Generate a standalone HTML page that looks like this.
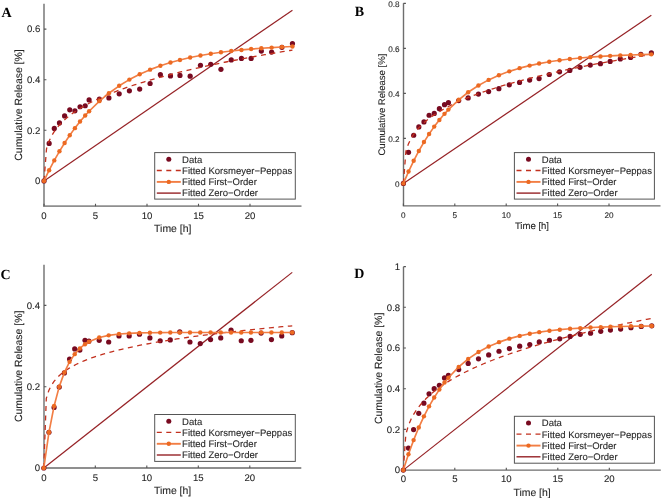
<!DOCTYPE html>
<html><head><meta charset="utf-8"><style>
html,body{margin:0;padding:0;background:#fff;width:662px;height:498px;overflow:hidden}
svg{display:block}
text{text-rendering:geometricPrecision;font-family:"Liberation Sans",sans-serif;fill:#262626;stroke:#262626;stroke-width:0.1px}
.lt{text-rendering:geometricPrecision;font-family:"Liberation Serif",serif;font-weight:bold;font-size:14px;fill:#000;stroke:none}
</style></head><body>
<svg style="filter:blur(0.3px)" width="662" height="498" viewBox="0 0 662 498">
<rect width="662" height="498" fill="#fff"/>
<g id="pA"><path d="M44 3.8V206.2H301.5" fill="none" stroke="#8f8f8f" stroke-width="1.8"/>
<path d="M44 180.9h2.4M44 130.3h2.4M44 79.7h2.4M44 29.1h2.4M44 206.2v-2.4M95.5 206.2v-2.4M147 206.2v-2.4M198.5 206.2v-2.4M250 206.2v-2.4" stroke="#555" stroke-width="1.1"/>
<text x="40.3" y="184.26" font-size="9.6" text-anchor="end">0</text>
<text x="40.3" y="133.66" font-size="9.6" text-anchor="end">0.2</text>
<text x="40.3" y="83.06" font-size="9.6" text-anchor="end">0.4</text>
<text x="40.3" y="32.46" font-size="9.6" text-anchor="end">0.6</text>
<text x="44" y="219.2" font-size="9.6" text-anchor="middle">0</text>
<text x="95.5" y="219.2" font-size="9.6" text-anchor="middle">5</text>
<text x="147" y="219.2" font-size="9.6" text-anchor="middle">10</text>
<text x="198.5" y="219.2" font-size="9.6" text-anchor="middle">15</text>
<text x="250" y="219.2" font-size="9.6" text-anchor="middle">20</text>
<text x="172.75" y="231.9" font-size="10.45" text-anchor="middle">Time [h]</text>
<text transform="translate(21.6 105) rotate(-90)" font-size="10.45" text-anchor="middle">Cumulative Release [%]</text>
<text x="1.5" y="17.2" class="lt">A</text>
<path d="M44 180.9L292.44 10.22" stroke="#962226" stroke-width="1.2" fill="none"/>
<circle cx="44" cy="180.9" r="2.6" fill="#780a20"/>
<circle cx="49.15" cy="143.46" r="2.6" fill="#780a20"/>
<circle cx="54.3" cy="128.4" r="2.6" fill="#780a20"/>
<circle cx="59.45" cy="122.96" r="2.6" fill="#780a20"/>
<circle cx="64.6" cy="115.88" r="2.6" fill="#780a20"/>
<circle cx="69.75" cy="109.81" r="2.6" fill="#780a20"/>
<circle cx="74.9" cy="110.82" r="2.6" fill="#780a20"/>
<circle cx="80.05" cy="106.77" r="2.6" fill="#780a20"/>
<circle cx="85.2" cy="105.76" r="2.6" fill="#780a20"/>
<circle cx="89.11" cy="99.94" r="2.6" fill="#780a20"/>
<circle cx="99.41" cy="99.18" r="2.6" fill="#780a20"/>
<circle cx="108.89" cy="97.92" r="2.6" fill="#780a20"/>
<circle cx="119.19" cy="93.87" r="2.6" fill="#780a20"/>
<circle cx="129.39" cy="90.83" r="2.6" fill="#780a20"/>
<circle cx="139.69" cy="89.06" r="2.6" fill="#780a20"/>
<circle cx="150.09" cy="83.5" r="2.6" fill="#780a20"/>
<circle cx="160.39" cy="74.64" r="2.6" fill="#780a20"/>
<circle cx="170.48" cy="75.91" r="2.6" fill="#780a20"/>
<circle cx="179.96" cy="75.4" r="2.6" fill="#780a20"/>
<circle cx="190.16" cy="76.16" r="2.6" fill="#780a20"/>
<circle cx="200.46" cy="65.28" r="2.6" fill="#780a20"/>
<circle cx="210.76" cy="64.27" r="2.6" fill="#780a20"/>
<circle cx="220.95" cy="69.33" r="2.6" fill="#780a20"/>
<circle cx="231.25" cy="59.97" r="2.6" fill="#780a20"/>
<circle cx="241.45" cy="58.45" r="2.6" fill="#780a20"/>
<circle cx="251.13" cy="58.45" r="2.6" fill="#780a20"/>
<circle cx="261.33" cy="51.11" r="2.6" fill="#780a20"/>
<circle cx="271.63" cy="52.12" r="2.6" fill="#780a20"/>
<circle cx="281.93" cy="47.32" r="2.6" fill="#780a20"/>
<circle cx="292.44" cy="43.52" r="2.6" fill="#780a20"/>
<polyline points="44,180.9 46.51,148.87 49.02,141.29 51.53,136.06 54.04,131.93 56.55,128.46 59.06,125.45 61.57,122.77 64.08,120.35 66.59,118.12 69.09,116.07 71.6,114.15 74.11,112.34 76.62,110.64 79.13,109.03 81.64,107.5 84.15,106.03 86.66,104.63 89.17,103.28 91.68,101.99 94.19,100.74 96.7,99.53 99.21,98.36 101.72,97.23 104.23,96.13 106.74,95.07 109.25,94.03 111.76,93.02 114.26,92.04 116.77,91.08 119.28,90.14 121.79,89.22 124.3,88.33 126.81,87.45 129.32,86.59 131.83,85.75 134.34,84.93 136.85,84.12 139.36,83.33 141.87,82.55 144.38,81.78 146.89,81.03 149.4,80.29 151.91,79.56 154.42,78.85 156.93,78.14 159.43,77.45 161.94,76.77 164.45,76.09 166.96,75.43 169.47,74.77 171.98,74.13 174.49,73.49 177,72.86 179.51,72.24 182.02,71.63 184.53,71.03 187.04,70.43 189.55,69.84 192.06,69.26 194.57,68.68 197.08,68.11 199.59,67.55 202.1,66.99 204.61,66.44 207.11,65.9 209.62,65.36 212.13,64.82 214.64,64.3 217.15,63.77 219.66,63.26 222.17,62.74 224.68,62.24 227.19,61.74 229.7,61.24 232.21,60.74 234.72,60.26 237.23,59.77 239.74,59.29 242.25,58.82 244.76,58.35 247.27,57.88 249.78,57.42 252.28,56.96 254.79,56.5 257.3,56.05 259.81,55.6 262.32,55.16 264.83,54.72 267.34,54.28 269.85,53.85 272.36,53.42 274.87,52.99 277.38,52.56 279.89,52.14 282.4,51.73 284.91,51.31 287.42,50.9 289.93,50.49 292.44,50.08" stroke="#c2301e" stroke-width="1.3" fill="none" stroke-dasharray="5 4.5"/>
<polyline points="44,180.9 49.15,170.23 54.3,160.4 59.45,151.32 64.6,142.96 69.75,135.24 74.9,128.13 80.05,121.57 85.2,115.52 89.11,111.23 99.41,101.15 108.89,93.21 119.19,85.82 129.39,79.59 139.69,74.24 150.09,69.64 160.39,65.78 170.48,62.55 179.96,59.96 190.16,57.56 200.46,55.5 210.76,53.75 220.95,52.28 231.25,51.01 241.45,49.94 251.13,49.07 261.33,48.29 271.63,47.62 281.93,47.05 292.44,46.55" stroke="#f27e44" stroke-width="1.65" fill="none" stroke-linejoin="round"/>
<circle cx="44" cy="180.9" r="2.2" fill="#ec6a22"/>
<circle cx="49.15" cy="170.23" r="2.2" fill="#ec6a22"/>
<circle cx="54.3" cy="160.4" r="2.2" fill="#ec6a22"/>
<circle cx="59.45" cy="151.32" r="2.2" fill="#ec6a22"/>
<circle cx="64.6" cy="142.96" r="2.2" fill="#ec6a22"/>
<circle cx="69.75" cy="135.24" r="2.2" fill="#ec6a22"/>
<circle cx="74.9" cy="128.13" r="2.2" fill="#ec6a22"/>
<circle cx="80.05" cy="121.57" r="2.2" fill="#ec6a22"/>
<circle cx="85.2" cy="115.52" r="2.2" fill="#ec6a22"/>
<circle cx="89.11" cy="111.23" r="2.2" fill="#ec6a22"/>
<circle cx="99.41" cy="101.15" r="2.2" fill="#ec6a22"/>
<circle cx="108.89" cy="93.21" r="2.2" fill="#ec6a22"/>
<circle cx="119.19" cy="85.82" r="2.2" fill="#ec6a22"/>
<circle cx="129.39" cy="79.59" r="2.2" fill="#ec6a22"/>
<circle cx="139.69" cy="74.24" r="2.2" fill="#ec6a22"/>
<circle cx="150.09" cy="69.64" r="2.2" fill="#ec6a22"/>
<circle cx="160.39" cy="65.78" r="2.2" fill="#ec6a22"/>
<circle cx="170.48" cy="62.55" r="2.2" fill="#ec6a22"/>
<circle cx="179.96" cy="59.96" r="2.2" fill="#ec6a22"/>
<circle cx="190.16" cy="57.56" r="2.2" fill="#ec6a22"/>
<circle cx="200.46" cy="55.5" r="2.2" fill="#ec6a22"/>
<circle cx="210.76" cy="53.75" r="2.2" fill="#ec6a22"/>
<circle cx="220.95" cy="52.28" r="2.2" fill="#ec6a22"/>
<circle cx="231.25" cy="51.01" r="2.2" fill="#ec6a22"/>
<circle cx="241.45" cy="49.94" r="2.2" fill="#ec6a22"/>
<circle cx="251.13" cy="49.07" r="2.2" fill="#ec6a22"/>
<circle cx="261.33" cy="48.29" r="2.2" fill="#ec6a22"/>
<circle cx="271.63" cy="47.62" r="2.2" fill="#ec6a22"/>
<circle cx="281.93" cy="47.05" r="2.2" fill="#ec6a22"/>
<circle cx="292.44" cy="46.55" r="2.2" fill="#ec6a22"/>
<rect x="154.7" y="152.6" width="140.6" height="46.5" fill="#fff" stroke="#555" stroke-width="1"/>
<circle cx="168.8" cy="159.3" r="2.5" fill="#780a20"/>
<path d="M156.8 170.5H180.8" stroke="#c2301e" stroke-width="1.3" stroke-dasharray="5 4.5"/>
<path d="M156.8 181.9H180.8" stroke="#f27e44" stroke-width="1.9"/>
<circle cx="168.8" cy="181.9" r="2.2" fill="#ec6a22"/>
<path d="M156.8 193.1H180.8" stroke="#962226" stroke-width="1.4"/>
<text x="182.1" y="162.6" font-size="9.5">Data</text>
<text x="182.1" y="173.8" font-size="9.5">Fitted Korsmeyer−Peppas</text>
<text x="182.1" y="185.2" font-size="9.5">Fitted First−Order</text>
<text x="182.1" y="196.4" font-size="9.5">Fitted Zero−Order</text></g>
<g id="pB"><path d="M403.5 3.3V205.9H660.5" fill="none" stroke="#6e6e6e" stroke-width="1.4"/>
<path d="M403.5 183.4h2.4M403.5 138.4h2.4M403.5 93.4h2.4M403.5 48.4h2.4M403.5 3.4h2.4M403.4 205.9v-2.4M454.8 205.9v-2.4M506.2 205.9v-2.4M557.6 205.9v-2.4M609 205.9v-2.4" stroke="#555" stroke-width="1.1"/>
<text x="399.6" y="186.87" font-size="8.2" text-anchor="end">0</text>
<text x="399.6" y="141.87" font-size="8.2" text-anchor="end">0.2</text>
<text x="399.6" y="96.87" font-size="8.2" text-anchor="end">0.4</text>
<text x="399.6" y="51.87" font-size="8.2" text-anchor="end">0.6</text>
<text x="399.6" y="6.87" font-size="8.2" text-anchor="end">0.8</text>
<text x="403.4" y="217.6" font-size="8.2" text-anchor="middle">0</text>
<text x="454.8" y="217.6" font-size="8.2" text-anchor="middle">5</text>
<text x="506.2" y="217.6" font-size="8.2" text-anchor="middle">10</text>
<text x="557.6" y="217.6" font-size="8.2" text-anchor="middle">15</text>
<text x="609" y="217.6" font-size="8.2" text-anchor="middle">20</text>
<text x="531.95" y="228.7" font-size="9.55" text-anchor="middle">Time [h]</text>
<text transform="translate(385 104.6) rotate(-90)" font-size="9.55" text-anchor="middle">Cumulative Release [%]</text>
<text x="354.8" y="15.9" class="lt">B</text>
<path d="M403.4 183.4L651.35 15.33" stroke="#962226" stroke-width="1.2" fill="none"/>
<circle cx="403.4" cy="183.4" r="2.6" fill="#780a20"/>
<circle cx="408.54" cy="152.35" r="2.6" fill="#780a20"/>
<circle cx="413.68" cy="135.25" r="2.6" fill="#780a20"/>
<circle cx="418.82" cy="126.93" r="2.6" fill="#780a20"/>
<circle cx="423.96" cy="121.97" r="2.6" fill="#780a20"/>
<circle cx="429.1" cy="115.23" r="2.6" fill="#780a20"/>
<circle cx="434.24" cy="113.43" r="2.6" fill="#780a20"/>
<circle cx="439.38" cy="108.7" r="2.6" fill="#780a20"/>
<circle cx="444.52" cy="104.65" r="2.6" fill="#780a20"/>
<circle cx="448.43" cy="102.63" r="2.6" fill="#780a20"/>
<circle cx="458.71" cy="100.6" r="2.6" fill="#780a20"/>
<circle cx="468.16" cy="97.9" r="2.6" fill="#780a20"/>
<circle cx="478.44" cy="94.08" r="2.6" fill="#780a20"/>
<circle cx="488.62" cy="91.6" r="2.6" fill="#780a20"/>
<circle cx="498.9" cy="88.68" r="2.6" fill="#780a20"/>
<circle cx="509.28" cy="84.85" r="2.6" fill="#780a20"/>
<circle cx="519.56" cy="82.38" r="2.6" fill="#780a20"/>
<circle cx="529.64" cy="80.12" r="2.6" fill="#780a20"/>
<circle cx="539.1" cy="78.55" r="2.6" fill="#780a20"/>
<circle cx="549.27" cy="74.5" r="2.6" fill="#780a20"/>
<circle cx="559.55" cy="71.8" r="2.6" fill="#780a20"/>
<circle cx="569.83" cy="70.45" r="2.6" fill="#780a20"/>
<circle cx="580.01" cy="67.3" r="2.6" fill="#780a20"/>
<circle cx="590.29" cy="65.05" r="2.6" fill="#780a20"/>
<circle cx="600.47" cy="63.7" r="2.6" fill="#780a20"/>
<circle cx="610.13" cy="61.45" r="2.6" fill="#780a20"/>
<circle cx="620.31" cy="58.97" r="2.6" fill="#780a20"/>
<circle cx="630.59" cy="57.4" r="2.6" fill="#780a20"/>
<circle cx="640.87" cy="54.25" r="2.6" fill="#780a20"/>
<circle cx="651.35" cy="52.9" r="2.6" fill="#780a20"/>
<polyline points="403.4,183.4 405.9,151.38 408.41,143.9 410.91,138.73 413.42,134.66 415.92,131.25 418.43,128.29 420.93,125.66 423.44,123.27 425.94,121.09 428.45,119.06 430.95,117.18 433.45,115.41 435.96,113.74 438.46,112.16 440.97,110.65 443.47,109.21 445.98,107.84 448.48,106.52 450.99,105.25 453.49,104.02 456,102.84 458.5,101.7 461.01,100.59 463.51,99.51 466.01,98.47 468.52,97.45 471.02,96.46 473.53,95.5 476.03,94.56 478.54,93.64 481.04,92.75 483.55,91.87 486.05,91.01 488.56,90.17 491.06,89.35 493.56,88.54 496.07,87.75 498.57,86.97 501.08,86.21 503.58,85.46 506.09,84.73 508.59,84 511.1,83.29 513.6,82.59 516.11,81.9 518.61,81.23 521.12,80.56 523.62,79.9 526.12,79.25 528.63,78.61 531.13,77.98 533.64,77.36 536.14,76.74 538.65,76.14 541.15,75.54 543.66,74.95 546.16,74.37 548.67,73.79 551.17,73.22 553.67,72.66 556.18,72.1 558.68,71.55 561.19,71.01 563.69,70.47 566.2,69.94 568.7,69.41 571.21,68.89 573.71,68.38 576.22,67.87 578.72,67.36 581.23,66.86 583.73,66.37 586.23,65.87 588.74,65.39 591.24,64.91 593.75,64.43 596.25,63.96 598.76,63.49 601.26,63.03 603.77,62.57 606.27,62.11 608.78,61.66 611.28,61.21 613.78,60.77 616.29,60.33 618.79,59.89 621.3,59.46 623.8,59.03 626.31,58.6 628.81,58.18 631.32,57.76 633.82,57.34 636.33,56.92 638.83,56.51 641.34,56.11 643.84,55.7 646.34,55.3 648.85,54.9 651.35,54.51" stroke="#c2301e" stroke-width="1.3" fill="none" stroke-dasharray="5 4.5"/>
<polyline points="403.4,183.4 408.54,171.55 413.68,160.77 418.82,150.97 423.96,142.07 429.1,133.97 434.24,126.61 439.38,119.93 444.52,113.84 448.43,109.59 458.71,99.78 468.16,92.26 478.44,85.45 488.62,79.88 498.9,75.22 509.28,71.34 519.56,68.17 529.64,65.59 539.1,63.57 549.27,61.76 559.55,60.25 569.83,59 580.01,57.98 590.29,57.13 600.47,56.43 610.13,55.87 620.31,55.39 630.59,54.98 640.87,54.65 651.35,54.37" stroke="#f27e44" stroke-width="1.65" fill="none" stroke-linejoin="round"/>
<circle cx="403.4" cy="183.4" r="2.2" fill="#ec6a22"/>
<circle cx="408.54" cy="171.55" r="2.2" fill="#ec6a22"/>
<circle cx="413.68" cy="160.77" r="2.2" fill="#ec6a22"/>
<circle cx="418.82" cy="150.97" r="2.2" fill="#ec6a22"/>
<circle cx="423.96" cy="142.07" r="2.2" fill="#ec6a22"/>
<circle cx="429.1" cy="133.97" r="2.2" fill="#ec6a22"/>
<circle cx="434.24" cy="126.61" r="2.2" fill="#ec6a22"/>
<circle cx="439.38" cy="119.93" r="2.2" fill="#ec6a22"/>
<circle cx="444.52" cy="113.84" r="2.2" fill="#ec6a22"/>
<circle cx="448.43" cy="109.59" r="2.2" fill="#ec6a22"/>
<circle cx="458.71" cy="99.78" r="2.2" fill="#ec6a22"/>
<circle cx="468.16" cy="92.26" r="2.2" fill="#ec6a22"/>
<circle cx="478.44" cy="85.45" r="2.2" fill="#ec6a22"/>
<circle cx="488.62" cy="79.88" r="2.2" fill="#ec6a22"/>
<circle cx="498.9" cy="75.22" r="2.2" fill="#ec6a22"/>
<circle cx="509.28" cy="71.34" r="2.2" fill="#ec6a22"/>
<circle cx="519.56" cy="68.17" r="2.2" fill="#ec6a22"/>
<circle cx="529.64" cy="65.59" r="2.2" fill="#ec6a22"/>
<circle cx="539.1" cy="63.57" r="2.2" fill="#ec6a22"/>
<circle cx="549.27" cy="61.76" r="2.2" fill="#ec6a22"/>
<circle cx="559.55" cy="60.25" r="2.2" fill="#ec6a22"/>
<circle cx="569.83" cy="59" r="2.2" fill="#ec6a22"/>
<circle cx="580.01" cy="57.98" r="2.2" fill="#ec6a22"/>
<circle cx="590.29" cy="57.13" r="2.2" fill="#ec6a22"/>
<circle cx="600.47" cy="56.43" r="2.2" fill="#ec6a22"/>
<circle cx="610.13" cy="55.87" r="2.2" fill="#ec6a22"/>
<circle cx="620.31" cy="55.39" r="2.2" fill="#ec6a22"/>
<circle cx="630.59" cy="54.98" r="2.2" fill="#ec6a22"/>
<circle cx="640.87" cy="54.65" r="2.2" fill="#ec6a22"/>
<circle cx="651.35" cy="54.37" r="2.2" fill="#ec6a22"/>
<rect x="514.4" y="152.6" width="140" height="46.5" fill="#fff" stroke="#555" stroke-width="1"/>
<circle cx="528.5" cy="159.3" r="2.5" fill="#780a20"/>
<path d="M516.5 170.5H540.5" stroke="#c2301e" stroke-width="1.3" stroke-dasharray="5 4.5"/>
<path d="M516.5 181.9H540.5" stroke="#f27e44" stroke-width="1.9"/>
<circle cx="528.5" cy="181.9" r="2.2" fill="#ec6a22"/>
<path d="M516.5 193.1H540.5" stroke="#962226" stroke-width="1.4"/>
<text x="541.8" y="162.6" font-size="9.5">Data</text>
<text x="541.8" y="173.8" font-size="9.5">Fitted Korsmeyer−Peppas</text>
<text x="541.8" y="185.2" font-size="9.5">Fitted First−Order</text>
<text x="541.8" y="196.4" font-size="9.5">Fitted Zero−Order</text></g>
<g id="pC"><path d="M44 264.7V468H301.3" fill="none" stroke="#8f8f8f" stroke-width="1.8"/>
<path d="M44 468h2.4M44 386.7h2.4M44 305.4h2.4M43.8 468v-2.4M95.3 468v-2.4M146.8 468v-2.4M198.3 468v-2.4M249.8 468v-2.4" stroke="#555" stroke-width="1.1"/>
<text x="40.1" y="471.36" font-size="9.6" text-anchor="end">0</text>
<text x="40.1" y="390.06" font-size="9.6" text-anchor="end">0.2</text>
<text x="40.1" y="308.76" font-size="9.6" text-anchor="end">0.4</text>
<text x="43.8" y="480.6" font-size="9.6" text-anchor="middle">0</text>
<text x="95.3" y="480.6" font-size="9.6" text-anchor="middle">5</text>
<text x="146.8" y="480.6" font-size="9.6" text-anchor="middle">10</text>
<text x="198.3" y="480.6" font-size="9.6" text-anchor="middle">15</text>
<text x="249.8" y="480.6" font-size="9.6" text-anchor="middle">20</text>
<text x="172.55" y="493.8" font-size="10.45" text-anchor="middle">Time [h]</text>
<text transform="translate(22.2 366.35) rotate(-90)" font-size="10.45" text-anchor="middle">Cumulative Release [%]</text>
<text x="0.6" y="278.7" class="lt">C</text>
<path d="M43.8 468L292.24 272.39" stroke="#962226" stroke-width="1.2" fill="none"/>
<circle cx="43.8" cy="468" r="2.6" fill="#780a20"/>
<circle cx="48.95" cy="432.23" r="2.6" fill="#780a20"/>
<circle cx="54.1" cy="407.43" r="2.6" fill="#780a20"/>
<circle cx="59.25" cy="387.11" r="2.6" fill="#780a20"/>
<circle cx="64.4" cy="372.88" r="2.6" fill="#780a20"/>
<circle cx="69.55" cy="359.06" r="2.6" fill="#780a20"/>
<circle cx="74.7" cy="348.9" r="2.6" fill="#780a20"/>
<circle cx="79.85" cy="350.12" r="2.6" fill="#780a20"/>
<circle cx="85" cy="340.36" r="2.6" fill="#780a20"/>
<circle cx="88.91" cy="341.17" r="2.6" fill="#780a20"/>
<circle cx="99.21" cy="340.36" r="2.6" fill="#780a20"/>
<circle cx="108.69" cy="341.99" r="2.6" fill="#780a20"/>
<circle cx="118.99" cy="335.89" r="2.6" fill="#780a20"/>
<circle cx="129.19" cy="335.89" r="2.6" fill="#780a20"/>
<circle cx="139.49" cy="334.26" r="2.6" fill="#780a20"/>
<circle cx="149.89" cy="337.92" r="2.6" fill="#780a20"/>
<circle cx="160.19" cy="340.77" r="2.6" fill="#780a20"/>
<circle cx="170.28" cy="339.95" r="2.6" fill="#780a20"/>
<circle cx="179.76" cy="331.82" r="2.6" fill="#780a20"/>
<circle cx="189.96" cy="341.99" r="2.6" fill="#780a20"/>
<circle cx="200.26" cy="343.61" r="2.6" fill="#780a20"/>
<circle cx="210.56" cy="339.55" r="2.6" fill="#780a20"/>
<circle cx="220.75" cy="337.92" r="2.6" fill="#780a20"/>
<circle cx="231.05" cy="330.2" r="2.6" fill="#780a20"/>
<circle cx="241.25" cy="340.77" r="2.6" fill="#780a20"/>
<circle cx="250.93" cy="340.36" r="2.6" fill="#780a20"/>
<circle cx="261.13" cy="333.04" r="2.6" fill="#780a20"/>
<circle cx="271.43" cy="339.55" r="2.6" fill="#780a20"/>
<circle cx="281.73" cy="335.89" r="2.6" fill="#780a20"/>
<circle cx="292.24" cy="332.64" r="2.6" fill="#780a20"/>
<polyline points="43.8,468 46.31,398.38 48.82,390.46 51.33,385.42 53.84,381.64 56.35,378.59 58.86,376.02 61.37,373.79 63.88,371.82 66.39,370.04 68.89,368.42 71.4,366.94 73.91,365.56 76.42,364.28 78.93,363.08 81.44,361.95 83.95,360.88 86.46,359.87 88.97,358.9 91.48,357.98 93.99,357.1 96.5,356.26 99.01,355.45 101.52,354.67 104.03,353.91 106.54,353.19 109.05,352.49 111.56,351.81 114.06,351.15 116.57,350.51 119.08,349.89 121.59,349.28 124.1,348.7 126.61,348.13 129.12,347.57 131.63,347.02 134.14,346.49 136.65,345.97 139.16,345.47 141.67,344.97 144.18,344.49 146.69,344.01 149.2,343.55 151.71,343.09 154.22,342.64 156.73,342.21 159.23,341.78 161.74,341.35 164.25,340.94 166.76,340.53 169.27,340.13 171.78,339.74 174.29,339.35 176.8,338.97 179.31,338.59 181.82,338.22 184.33,337.86 186.84,337.5 189.35,337.15 191.86,336.8 194.37,336.45 196.88,336.12 199.39,335.78 201.9,335.45 204.41,335.13 206.91,334.81 209.42,334.49 211.93,334.18 214.44,333.87 216.95,333.57 219.46,333.27 221.97,332.97 224.48,332.67 226.99,332.38 229.5,332.1 232.01,331.81 234.52,331.53 237.03,331.25 239.54,330.98 242.05,330.71 244.56,330.44 247.07,330.17 249.58,329.91 252.08,329.65 254.59,329.39 257.1,329.14 259.61,328.89 262.12,328.64 264.63,328.39 267.14,328.14 269.65,327.9 272.16,327.66 274.67,327.42 277.18,327.18 279.69,326.95 282.2,326.72 284.71,326.49 287.22,326.26 289.73,326.03 292.24,325.81" stroke="#c2301e" stroke-width="1.3" fill="none" stroke-dasharray="5 4.5"/>
<polyline points="43.8,468 48.95,432.31 54.1,406.02 59.25,386.65 64.4,372.38 69.55,361.87 74.7,354.13 79.85,348.43 85,344.22 88.91,341.79 99.21,337.53 108.69,335.35 118.99,334.04 129.19,333.33 139.49,332.94 149.89,332.72 160.19,332.61 170.28,332.55 179.76,332.52 189.96,332.5 200.26,332.49 210.56,332.48 220.75,332.48 231.05,332.47 241.25,332.47 250.93,332.47 261.13,332.47 271.43,332.47 281.73,332.47 292.24,332.47" stroke="#f27e44" stroke-width="1.65" fill="none" stroke-linejoin="round"/>
<circle cx="43.8" cy="468" r="2.2" fill="#ec6a22"/>
<circle cx="48.95" cy="432.31" r="2.2" fill="#ec6a22"/>
<circle cx="54.1" cy="406.02" r="2.2" fill="#ec6a22"/>
<circle cx="59.25" cy="386.65" r="2.2" fill="#ec6a22"/>
<circle cx="64.4" cy="372.38" r="2.2" fill="#ec6a22"/>
<circle cx="69.55" cy="361.87" r="2.2" fill="#ec6a22"/>
<circle cx="74.7" cy="354.13" r="2.2" fill="#ec6a22"/>
<circle cx="79.85" cy="348.43" r="2.2" fill="#ec6a22"/>
<circle cx="85" cy="344.22" r="2.2" fill="#ec6a22"/>
<circle cx="88.91" cy="341.79" r="2.2" fill="#ec6a22"/>
<circle cx="99.21" cy="337.53" r="2.2" fill="#ec6a22"/>
<circle cx="108.69" cy="335.35" r="2.2" fill="#ec6a22"/>
<circle cx="118.99" cy="334.04" r="2.2" fill="#ec6a22"/>
<circle cx="129.19" cy="333.33" r="2.2" fill="#ec6a22"/>
<circle cx="139.49" cy="332.94" r="2.2" fill="#ec6a22"/>
<circle cx="149.89" cy="332.72" r="2.2" fill="#ec6a22"/>
<circle cx="160.19" cy="332.61" r="2.2" fill="#ec6a22"/>
<circle cx="170.28" cy="332.55" r="2.2" fill="#ec6a22"/>
<circle cx="179.76" cy="332.52" r="2.2" fill="#ec6a22"/>
<circle cx="189.96" cy="332.5" r="2.2" fill="#ec6a22"/>
<circle cx="200.26" cy="332.49" r="2.2" fill="#ec6a22"/>
<circle cx="210.56" cy="332.48" r="2.2" fill="#ec6a22"/>
<circle cx="220.75" cy="332.48" r="2.2" fill="#ec6a22"/>
<circle cx="231.05" cy="332.47" r="2.2" fill="#ec6a22"/>
<circle cx="241.25" cy="332.47" r="2.2" fill="#ec6a22"/>
<circle cx="250.93" cy="332.47" r="2.2" fill="#ec6a22"/>
<circle cx="261.13" cy="332.47" r="2.2" fill="#ec6a22"/>
<circle cx="271.43" cy="332.47" r="2.2" fill="#ec6a22"/>
<circle cx="281.73" cy="332.47" r="2.2" fill="#ec6a22"/>
<circle cx="292.24" cy="332.47" r="2.2" fill="#ec6a22"/>
<rect x="154.7" y="414.5" width="140.6" height="46.9" fill="#fff" stroke="#555" stroke-width="1"/>
<circle cx="168.8" cy="421.2" r="2.5" fill="#780a20"/>
<path d="M156.8 432.4H180.8" stroke="#c2301e" stroke-width="1.3" stroke-dasharray="5 4.5"/>
<path d="M156.8 443.8H180.8" stroke="#f27e44" stroke-width="1.9"/>
<circle cx="168.8" cy="443.8" r="2.2" fill="#ec6a22"/>
<path d="M156.8 455H180.8" stroke="#962226" stroke-width="1.4"/>
<text x="182.1" y="424.5" font-size="9.5">Data</text>
<text x="182.1" y="435.7" font-size="9.5">Fitted Korsmeyer−Peppas</text>
<text x="182.1" y="447.1" font-size="9.5">Fitted First−Order</text>
<text x="182.1" y="458.3" font-size="9.5">Fitted Zero−Order</text></g>
<g id="pD"><path d="M403.5 266.7V470.1H660.8" fill="none" stroke="#6e6e6e" stroke-width="1.4"/>
<path d="M403.5 470.1h2.4M403.5 429.4h2.4M403.5 388.7h2.4M403.5 348h2.4M403.5 307.3h2.4M403.5 266.6h2.4M403.3 470.1v-2.4M454.8 470.1v-2.4M506.3 470.1v-2.4M557.8 470.1v-2.4M609.3 470.1v-2.4" stroke="#555" stroke-width="1.1"/>
<text x="400.2" y="473.46" font-size="9.6" text-anchor="end">0</text>
<text x="400.2" y="432.76" font-size="9.6" text-anchor="end">0.2</text>
<text x="400.2" y="392.06" font-size="9.6" text-anchor="end">0.4</text>
<text x="400.2" y="351.36" font-size="9.6" text-anchor="end">0.6</text>
<text x="400.2" y="310.66" font-size="9.6" text-anchor="end">0.8</text>
<text x="400.2" y="269.96" font-size="9.6" text-anchor="end">1</text>
<text x="403.3" y="482.4" font-size="9.6" text-anchor="middle">0</text>
<text x="454.8" y="482.4" font-size="9.6" text-anchor="middle">5</text>
<text x="506.3" y="482.4" font-size="9.6" text-anchor="middle">10</text>
<text x="557.8" y="482.4" font-size="9.6" text-anchor="middle">15</text>
<text x="609.3" y="482.4" font-size="9.6" text-anchor="middle">20</text>
<text x="532.05" y="495.6" font-size="10.45" text-anchor="middle">Time [h]</text>
<text transform="translate(381.8 368.4) rotate(-90)" font-size="10.45" text-anchor="middle">Cumulative Release [%]</text>
<text x="354.3" y="277.8" class="lt">D</text>
<path d="M403.3 470.1L651.74 274.25" stroke="#962226" stroke-width="1.2" fill="none"/>
<circle cx="403.3" cy="470.1" r="2.6" fill="#780a20"/>
<circle cx="408.45" cy="448.12" r="2.6" fill="#780a20"/>
<circle cx="413.6" cy="429.6" r="2.6" fill="#780a20"/>
<circle cx="418.75" cy="413.32" r="2.6" fill="#780a20"/>
<circle cx="423.9" cy="403.15" r="2.6" fill="#780a20"/>
<circle cx="429.05" cy="393.79" r="2.6" fill="#780a20"/>
<circle cx="434.2" cy="388.7" r="2.6" fill="#780a20"/>
<circle cx="439.35" cy="385.24" r="2.6" fill="#780a20"/>
<circle cx="444.5" cy="377.91" r="2.6" fill="#780a20"/>
<circle cx="448.41" cy="375.27" r="2.6" fill="#780a20"/>
<circle cx="458.71" cy="369.57" r="2.6" fill="#780a20"/>
<circle cx="468.19" cy="363.47" r="2.6" fill="#780a20"/>
<circle cx="478.49" cy="358.79" r="2.6" fill="#780a20"/>
<circle cx="488.69" cy="354.92" r="2.6" fill="#780a20"/>
<circle cx="498.99" cy="351.26" r="2.6" fill="#780a20"/>
<circle cx="509.39" cy="348.61" r="2.6" fill="#780a20"/>
<circle cx="519.69" cy="346.17" r="2.6" fill="#780a20"/>
<circle cx="529.78" cy="344.54" r="2.6" fill="#780a20"/>
<circle cx="539.26" cy="341.89" r="2.6" fill="#780a20"/>
<circle cx="549.46" cy="340.27" r="2.6" fill="#780a20"/>
<circle cx="559.76" cy="338.84" r="2.6" fill="#780a20"/>
<circle cx="570.06" cy="336.4" r="2.6" fill="#780a20"/>
<circle cx="580.25" cy="334.37" r="2.6" fill="#780a20"/>
<circle cx="590.55" cy="333.14" r="2.6" fill="#780a20"/>
<circle cx="600.75" cy="331.31" r="2.6" fill="#780a20"/>
<circle cx="610.43" cy="330.09" r="2.6" fill="#780a20"/>
<circle cx="620.63" cy="329.07" r="2.6" fill="#780a20"/>
<circle cx="630.93" cy="327.65" r="2.6" fill="#780a20"/>
<circle cx="641.23" cy="326.43" r="2.6" fill="#780a20"/>
<circle cx="651.74" cy="325.82" r="2.6" fill="#780a20"/>
<polyline points="403.3,470.1 405.81,434.44 408.32,425.73 410.83,419.68 413.34,414.89 415.85,410.87 418.36,407.37 420.87,404.24 423.38,401.41 425.89,398.81 428.39,396.41 430.9,394.16 433.41,392.05 435.92,390.05 438.43,388.16 440.94,386.36 443.45,384.64 445.96,382.99 448.47,381.41 450.98,379.88 453.49,378.41 456,376.99 458.51,375.62 461.02,374.28 463.53,372.99 466.04,371.73 468.55,370.51 471.06,369.32 473.56,368.15 476.07,367.02 478.58,365.91 481.09,364.83 483.6,363.77 486.11,362.74 488.62,361.72 491.13,360.73 493.64,359.75 496.15,358.79 498.66,357.85 501.17,356.93 503.68,356.02 506.19,355.13 508.7,354.26 511.21,353.39 513.72,352.55 516.23,351.71 518.73,350.89 521.24,350.08 523.75,349.28 526.26,348.49 528.77,347.71 531.28,346.95 533.79,346.19 536.3,345.44 538.81,344.71 541.32,343.98 543.83,343.26 546.34,342.55 548.85,341.85 551.36,341.16 553.87,340.47 556.38,339.8 558.89,339.13 561.4,338.46 563.91,337.81 566.41,337.16 568.92,336.52 571.43,335.88 573.94,335.26 576.45,334.63 578.96,334.02 581.47,333.41 583.98,332.81 586.49,332.21 589,331.61 591.51,331.03 594.02,330.45 596.53,329.87 599.04,329.3 601.55,328.73 604.06,328.17 606.57,327.61 609.08,327.06 611.58,326.51 614.09,325.97 616.6,325.43 619.11,324.9 621.62,324.37 624.13,323.84 626.64,323.32 629.15,322.8 631.66,322.29 634.17,321.78 636.68,321.27 639.19,320.77 641.7,320.27 644.21,319.77 646.72,319.28 649.23,318.79 651.74,318.31" stroke="#c2301e" stroke-width="1.3" fill="none" stroke-dasharray="5 4.5"/>
<polyline points="403.3,470.1 408.45,454.24 413.6,440.11 418.75,427.54 423.9,416.34 429.05,406.37 434.2,397.49 439.35,389.59 444.5,382.56 448.41,377.73 458.71,366.89 468.19,358.91 478.49,351.97 488.69,346.52 498.99,342.15 509.39,338.65 519.69,335.91 529.78,333.78 539.26,332.17 549.46,330.79 559.76,329.68 570.06,328.8 580.25,328.11 590.55,327.55 600.75,327.12 610.43,326.79 620.63,326.51 630.93,326.28 641.23,326.11 651.74,325.97" stroke="#f27e44" stroke-width="1.65" fill="none" stroke-linejoin="round"/>
<circle cx="403.3" cy="470.1" r="2.2" fill="#ec6a22"/>
<circle cx="408.45" cy="454.24" r="2.2" fill="#ec6a22"/>
<circle cx="413.6" cy="440.11" r="2.2" fill="#ec6a22"/>
<circle cx="418.75" cy="427.54" r="2.2" fill="#ec6a22"/>
<circle cx="423.9" cy="416.34" r="2.2" fill="#ec6a22"/>
<circle cx="429.05" cy="406.37" r="2.2" fill="#ec6a22"/>
<circle cx="434.2" cy="397.49" r="2.2" fill="#ec6a22"/>
<circle cx="439.35" cy="389.59" r="2.2" fill="#ec6a22"/>
<circle cx="444.5" cy="382.56" r="2.2" fill="#ec6a22"/>
<circle cx="448.41" cy="377.73" r="2.2" fill="#ec6a22"/>
<circle cx="458.71" cy="366.89" r="2.2" fill="#ec6a22"/>
<circle cx="468.19" cy="358.91" r="2.2" fill="#ec6a22"/>
<circle cx="478.49" cy="351.97" r="2.2" fill="#ec6a22"/>
<circle cx="488.69" cy="346.52" r="2.2" fill="#ec6a22"/>
<circle cx="498.99" cy="342.15" r="2.2" fill="#ec6a22"/>
<circle cx="509.39" cy="338.65" r="2.2" fill="#ec6a22"/>
<circle cx="519.69" cy="335.91" r="2.2" fill="#ec6a22"/>
<circle cx="529.78" cy="333.78" r="2.2" fill="#ec6a22"/>
<circle cx="539.26" cy="332.17" r="2.2" fill="#ec6a22"/>
<circle cx="549.46" cy="330.79" r="2.2" fill="#ec6a22"/>
<circle cx="559.76" cy="329.68" r="2.2" fill="#ec6a22"/>
<circle cx="570.06" cy="328.8" r="2.2" fill="#ec6a22"/>
<circle cx="580.25" cy="328.11" r="2.2" fill="#ec6a22"/>
<circle cx="590.55" cy="327.55" r="2.2" fill="#ec6a22"/>
<circle cx="600.75" cy="327.12" r="2.2" fill="#ec6a22"/>
<circle cx="610.43" cy="326.79" r="2.2" fill="#ec6a22"/>
<circle cx="620.63" cy="326.51" r="2.2" fill="#ec6a22"/>
<circle cx="630.93" cy="326.28" r="2.2" fill="#ec6a22"/>
<circle cx="641.23" cy="326.11" r="2.2" fill="#ec6a22"/>
<circle cx="651.74" cy="325.97" r="2.2" fill="#ec6a22"/>
<rect x="514.4" y="416.3" width="140" height="46.9" fill="#fff" stroke="#555" stroke-width="1"/>
<circle cx="528.5" cy="423" r="2.5" fill="#780a20"/>
<path d="M516.5 434.2H540.5" stroke="#c2301e" stroke-width="1.3" stroke-dasharray="5 4.5"/>
<path d="M516.5 445.6H540.5" stroke="#f27e44" stroke-width="1.9"/>
<circle cx="528.5" cy="445.6" r="2.2" fill="#ec6a22"/>
<path d="M516.5 456.8H540.5" stroke="#962226" stroke-width="1.4"/>
<text x="541.8" y="426.3" font-size="9.5">Data</text>
<text x="541.8" y="437.5" font-size="9.5">Fitted Korsmeyer−Peppas</text>
<text x="541.8" y="448.9" font-size="9.5">Fitted First−Order</text>
<text x="541.8" y="460.1" font-size="9.5">Fitted Zero−Order</text></g>
</svg></body></html>
